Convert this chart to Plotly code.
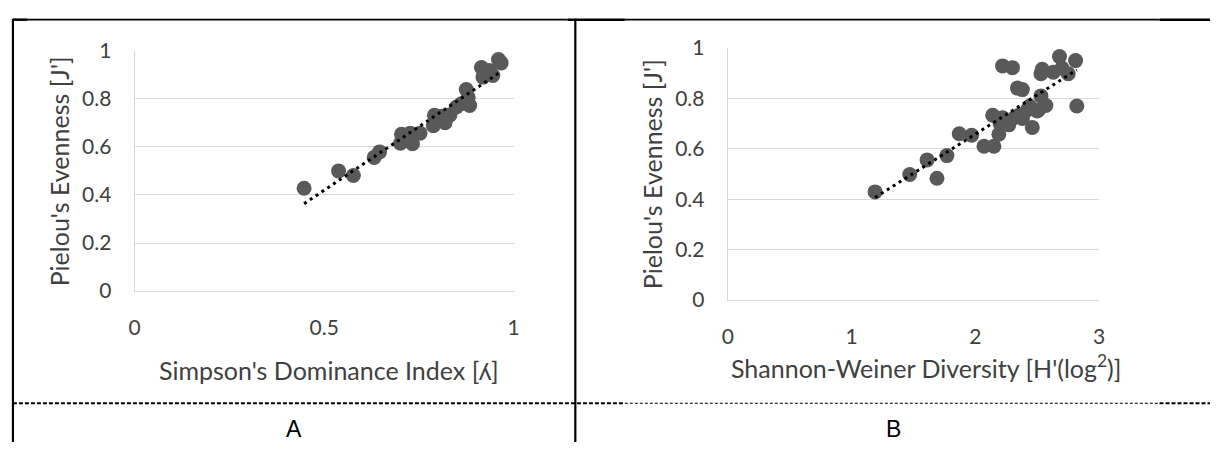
import numpy as np
import plotly.graph_objects as go

# ---------------- data ----------------
a_x = [0.447, 0.538, 0.577, 0.632, 0.646, 0.704, 0.727, 0.701, 0.733, 0.753,
       0.791, 0.788, 0.810, 0.819, 0.832, 0.849, 0.862, 0.875, 0.884, 0.880,
       0.915, 0.919, 0.936, 0.945, 0.960, 0.967]
a_y = [0.428, 0.500, 0.481, 0.556, 0.579, 0.652, 0.657, 0.615, 0.613, 0.657,
       0.731, 0.688, 0.727, 0.700, 0.733, 0.766, 0.779, 0.838, 0.772, 0.806,
       0.930, 0.890, 0.917, 0.897, 0.963, 0.949]

b_x = [1.19, 1.47, 1.61, 1.69, 1.77, 1.87, 1.97, 2.07, 2.15, 2.14, 2.19, 2.22,
       2.22, 2.30, 2.27, 2.34, 2.38, 2.35, 2.42, 2.46, 2.51, 2.53, 2.57, 2.53,
       2.54, 2.63, 2.68, 2.75, 2.81, 2.82, 2.70, 2.32, 2.38, 2.44, 2.50, 2.20]
b_y = [0.429, 0.498, 0.556, 0.483, 0.573, 0.660, 0.654, 0.610, 0.610, 0.733,
       0.658, 0.723, 0.929, 0.922, 0.695, 0.841, 0.835, 0.733, 0.754, 0.685,
       0.754, 0.810, 0.772, 0.898, 0.916, 0.904, 0.966, 0.898, 0.950, 0.770,
       0.920, 0.725, 0.720, 0.770, 0.750, 0.700]

a_xticks = [0, 0.5, 1]
b_xticks = [0, 1, 2, 3]
y_ticks = [0, 0.2, 0.4, 0.6, 0.8, 1]

a_xtitle = "Simpson's Dominance Index [ʎ]"
b_xtitle = "Shannon-Weiner Diversity [H'(log<sup>2</sup>)]"
y_title = "Pielou's Evenness [J']"
panel_labels = ["A", "B"]

# ---------------- layout constants (pixels) ----------------
W, H = 1216, 453
def px(x):
    return x / W
def py(y):
    return 1 - y / H

MARK = "#595959"
GRID = "#d9d9d9"
TXT = "#404040"
FONT = "Lato"

def trend(x, y):
    k, b = np.polyfit(x, y, 1)
    xs = np.array([min(x), max(x)])
    return xs, k * xs + b

fig = go.Figure()
for xs, ys, ax in [(a_x, a_y, ""), (b_x, b_y, "2")]:
    fig.add_trace(go.Scatter(x=xs, y=ys, mode="markers",
                             marker=dict(size=15, color=MARK, line=dict(width=0)),
                             xaxis="x" + ax, yaxis="y" + ax, showlegend=False,
                             hoverinfo="skip"))
    tx, ty = trend(xs, ys)
    fig.add_trace(go.Scatter(x=tx, y=ty, mode="lines",
                             line=dict(color="black", width=3, dash="3px,4px"),
                             xaxis="x" + ax, yaxis="y" + ax, showlegend=False,
                             hoverinfo="skip"))

axis_common = dict(showgrid=True, gridcolor=GRID, gridwidth=1.3, zeroline=False,
                   showline=True, linecolor=GRID, linewidth=1.3, ticks="",
                   tickfont=dict(family=FONT, size=21, color=TXT), fixedrange=True)

fig.update_layout(
    width=W, height=H, margin=dict(l=0, r=0, t=0, b=0),
    paper_bgcolor="white", plot_bgcolor="white",
    xaxis=dict(axis_common, domain=[px(130), px(512.7)], range=[0, 1],
               tickvals=a_xticks, ticktext=[f"{v:g}" for v in a_xticks],
               showgrid=False, anchor="y", ticklabelstandoff=18),
    yaxis=dict(axis_common, domain=[py(293.3), py(38.8)], range=[0, 1],
               tickvals=y_ticks, ticktext=[f"{v:g}" for v in y_ticks],
               anchor="x", ticklabelstandoff=18),
    xaxis2=dict(axis_common, domain=[px(729), px(1104)], range=[0, 3],
                tickvals=b_xticks, ticktext=[f"{v:g}" for v in b_xticks],
                showgrid=False, anchor="y2", ticklabelstandoff=18),
    yaxis2=dict(axis_common, domain=[py(302.7), py(36)], range=[0, 1],
                tickvals=y_ticks, ticktext=[f"{v:g}" for v in y_ticks],
                anchor="x2", ticklabelstandoff=18),
)

ann = []
tfont = dict(family=FONT, size=25, color=TXT)
ann.append(dict(text=a_xtitle, x=px(326), y=py(377), xref="paper", yref="paper",
                showarrow=False, font=tfont, xanchor="center", yanchor="middle"))
ann.append(dict(text=b_xtitle, x=px(929), y=py(373), xref="paper", yref="paper",
                showarrow=False, font=tfont, xanchor="center", yanchor="middle"))
ann.append(dict(text=y_title, x=px(53), y=py(166), xref="paper", yref="paper",
                showarrow=False, font=tfont, textangle=-90,
                xanchor="center", yanchor="middle"))
ann.append(dict(text=y_title, x=px(652), y=py(170), xref="paper", yref="paper",
                showarrow=False, font=tfont, textangle=-90,
                xanchor="center", yanchor="middle"))
lfont = dict(family="Liberation Sans, Arial", size=23, color="black")
ann.append(dict(text=panel_labels[0], x=px(291), y=py(439), xref="paper", yref="paper",
                showarrow=False, font=lfont, xanchor="center", yanchor="middle"))
ann.append(dict(text=panel_labels[1], x=px(896), y=py(439), xref="paper", yref="paper",
                showarrow=False, font=lfont, xanchor="center", yanchor="middle"))
fig.update_layout(annotations=ann)

# frame lines (table borders)
shapes = []
def line(x0, y0, x1, y1, w, dash="solid"):
    shapes.append(dict(type="line", xref="paper", yref="paper", layer="above",
                       x0=px(x0), y0=py(y0), x1=px(x1), y1=py(y1),
                       line=dict(color="black", width=w, dash=dash)))
line(7, 6, 22, 6, 2.5)
line(22, 6, 567, 6, 1.8)
line(567, 6, 625, 6, 2.5)
line(625, 6, 1165, 6, 1.8)
line(1165, 6, 1216, 6, 2.5)
line(7, 5, 7, 453, 2.2)
line(575, 5, 575, 453, 2.2)
line(7, 412, 625, 412, 2, "4px,2px")
line(625, 412, 1165, 412, 1.2, "3px,2px")
line(1165, 412, 1216, 412, 2, "4px,2px")
fig.update_layout(shapes=shapes)

fig.write_html("out.html", config={"displayModeBar": False},
               post_script="document.body.style.margin='0px';document.body.style.overflow='hidden';")
